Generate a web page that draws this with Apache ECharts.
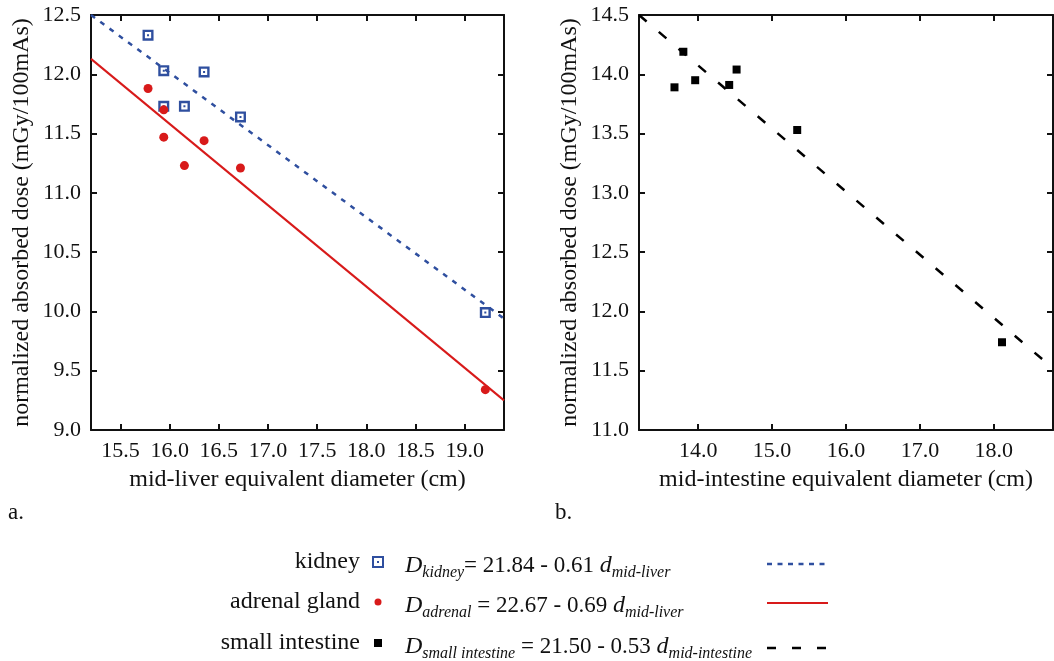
<!DOCTYPE html>
<html>
<head>
<meta charset="utf-8">
<script src="https://cdn.jsdelivr.net/npm/echarts@6/dist/echarts.min.js"></script>
<style>
html,body{margin:0;padding:0;background:#fff;}
#chart{width:1054px;height:661px;}
</style>
</head>
<body>
<div id="chart"></div>
<script>
// ---- data ----
const liverDiameter   = [15.78, 15.94, 15.94, 16.15, 16.35, 16.72, 19.21];
const kidneyDose      = [12.33, 12.03, 11.73, 11.73, 12.02, 11.64, 9.99];
const adrenalDose     = [11.88, 11.70, 11.47, 11.23, 11.44, 11.21, 9.34];
const intestineDiameter = [13.68, 13.80, 13.96, 14.42, 14.52, 15.34, 18.11];
const intestineDose     = [13.89, 14.19, 13.95, 13.91, 14.04, 13.53, 11.74];
// fitted lines (end points)
const kidneyFitX    = [15.2, 19.4];
const kidneyFitY    = [12.50, 9.94];
const adrenalFitX   = [15.2, 19.4];
const adrenalFitY   = [12.13, 9.25];
const intestineFitX = [13.2, 18.8];
const intestineFitY = [14.50, 11.52];
// tick labels
const liverTicks     = [15.5, 16.0, 16.5, 17.0, 17.5, 18.0, 18.5, 19.0];
const intestineTicks = [14.0, 15.0, 16.0, 17.0, 18.0];
// legend texts
const legendNames = ['kidney', 'adrenal gland', 'small intestine'];
const legendSubs  = ['kidney', 'adrenal', 'small intestine'];
const legendEqs   = ['= 21.84 - 0.61 ', ' = 22.67 - 0.69 ', ' = 21.50 - 0.53 '];
const legendVarSubs = ['mid-liver', 'mid-liver', 'mid-intestine'];

const pair = (xs, ys) => xs.map((x, i) => [x, ys[i]]);

const FONT = '"Liberation Serif", "Times New Roman", serif';
const INK = '#111111';
const BLUE = '#2f4f9f';
const RED = '#d81a1a';

const kidneySymbol = 'path://M0,0 L12,0 L12,12 L0,12 Z M2.6,2.6 L2.6,9.4 L9.4,9.4 L9.4,2.6 Z M4.9,4.9 L7.1,4.9 L7.1,7.1 L4.9,7.1 Z';

function xAxisPair(grid, min, max, ticks, name) {
  return [{
    gridIndex: grid, type: 'value', position: 'bottom', min: min, max: max,
    axisLine: { show: true, onZero: false, lineStyle: { color: INK, width: 2 } },
    axisTick: { show: true, inside: true, length: 6, customValues: ticks, lineStyle: { color: INK, width: 2 } },
    axisLabel: { customValues: ticks, formatter: v => Number(v).toFixed(1), fontFamily: FONT, fontSize: 22, color: INK, margin: 10 },
    splitLine: { show: false },
    name: name, nameLocation: 'middle', nameGap: 38,
    nameTextStyle: { fontFamily: FONT, fontSize: 24, color: INK }
  }, {
    gridIndex: grid, type: 'value', position: 'top', min: min, max: max,
    axisLine: { show: true, onZero: false, lineStyle: { color: INK, width: 2 } },
    axisTick: { show: true, inside: true, length: 6, customValues: ticks, lineStyle: { color: INK, width: 2 } },
    axisLabel: { show: false },
    splitLine: { show: false }
  }];
}
function yAxisPair(grid, min, max) {
  return [{
    gridIndex: grid, type: 'value', position: 'left', min: min, max: max, interval: 0.5,
    axisLine: { show: true, onZero: false, lineStyle: { color: INK, width: 2 } },
    axisTick: { show: true, inside: true, length: 6, lineStyle: { color: INK, width: 2 } },
    axisLabel: { formatter: v => Number(v).toFixed(1), fontFamily: FONT, fontSize: 22, color: INK, margin: 10 },
    splitLine: { show: false },
    name: 'normalized absorbed dose (mGy/100mAs)', nameLocation: 'middle', nameGap: 57,
    nameTextStyle: { fontFamily: FONT, fontSize: 24, color: INK }
  }, {
    gridIndex: grid, type: 'value', position: 'right', min: min, max: max, interval: 0.5,
    axisLine: { show: true, onZero: false, lineStyle: { color: INK, width: 2 } },
    axisTick: { show: true, inside: true, length: 6, lineStyle: { color: INK, width: 2 } },
    axisLabel: { show: false },
    splitLine: { show: false }
  }];
}

const rowY = [564, 604, 645];
const graphics = [];
legendNames.forEach((n, i) => {
  graphics.push({
    type: 'text', x: 360, y: rowY[i] - 2,
    style: { text: n, fill: INK, font: '24px ' + FONT, align: 'right', verticalAlign: 'middle' }
  });
  graphics.push({
    type: 'text', x: 405, y: rowY[i] + 2,
    style: {
      text: '{D|D}{s|' + legendSubs[i] + '}{n|' + legendEqs[i] + '}{D|d}{s|' + legendVarSubs[i] + '}',
      fill: INK, align: 'left', verticalAlign: 'middle',
      rich: {
        D: { fontFamily: FONT, fontStyle: 'italic', fontSize: 24, lineHeight: 30, verticalAlign: 'middle', fill: INK },
        n: { fontFamily: FONT, fontSize: 23, lineHeight: 30, verticalAlign: 'middle', fill: INK },
        s: { fontFamily: FONT, fontStyle: 'italic', fontSize: 16, lineHeight: 18, verticalAlign: 'bottom', fill: INK }
      }
    }
  });
});
// legend symbols
graphics.push({ type: 'rect', shape: { x: 373, y: rowY[0] - 7, width: 10, height: 10 }, style: { fill: '#fff', stroke: BLUE, lineWidth: 2 } });
graphics.push({ type: 'rect', shape: { x: 377, y: rowY[0] - 3, width: 2, height: 2 }, style: { fill: BLUE } });
graphics.push({ type: 'circle', shape: { cx: 378, cy: rowY[1] - 2, r: 3.5 }, style: { fill: RED } });
graphics.push({ type: 'rect', shape: { x: 374, y: rowY[2] - 6, width: 8, height: 8 }, style: { fill: '#000' } });
// legend line samples
graphics.push({ type: 'line', shape: { x1: 767, y1: rowY[0], x2: 828, y2: rowY[0] }, style: { stroke: BLUE, lineWidth: 2.5, lineDash: [5, 5.5] } });
graphics.push({ type: 'line', shape: { x1: 767, y1: rowY[1] - 1, x2: 828, y2: rowY[1] - 1 }, style: { stroke: RED, lineWidth: 2 } });
graphics.push({ type: 'line', shape: { x1: 767, y1: rowY[2] + 3, x2: 828, y2: rowY[2] + 3 }, style: { stroke: '#000', lineWidth: 2.5, lineDash: [9, 16] } });
// panel letters
graphics.push({ type: 'text', x: 8, y: 513, style: { text: 'a.', fill: INK, font: '23px ' + FONT, align: 'left', verticalAlign: 'middle' } });
graphics.push({ type: 'text', x: 555, y: 513, style: { text: 'b.', fill: INK, font: '23px ' + FONT, align: 'left', verticalAlign: 'middle' } });

const option = {
  backgroundColor: '#ffffff',
  animation: false,
  grid: [
    { left: 91, top: 15, width: 413, height: 415 },
    { left: 639, top: 15, width: 414, height: 415 }
  ],
  xAxis: [].concat(
    xAxisPair(0, 15.2, 19.4, liverTicks, 'mid-liver equivalent diameter (cm)'),
    xAxisPair(1, 13.2, 18.8, intestineTicks, 'mid-intestine equivalent diameter (cm)')
  ),
  yAxis: [].concat(yAxisPair(0, 9.0, 12.5), yAxisPair(1, 11.0, 14.5)),
  series: [
    { name: 'kidney fit', type: 'line', xAxisIndex: 0, yAxisIndex: 0, data: pair(kidneyFitX, kidneyFitY),
      showSymbol: false, symbol: 'none', lineStyle: { color: BLUE, width: 2.5, type: [5, 6.5] }, z: 2 },
    { name: 'adrenal fit', type: 'line', xAxisIndex: 0, yAxisIndex: 0, data: pair(adrenalFitX, adrenalFitY),
      showSymbol: false, symbol: 'none', lineStyle: { color: RED, width: 2 }, z: 2 },
    { name: 'kidney', type: 'scatter', xAxisIndex: 0, yAxisIndex: 0, data: pair(liverDiameter, kidneyDose),
      symbol: kidneySymbol, symbolSize: 11, itemStyle: { color: BLUE, opacity: 1 }, z: 5 },
    { name: 'adrenal gland', type: 'scatter', xAxisIndex: 0, yAxisIndex: 0, data: pair(liverDiameter, adrenalDose),
      symbol: 'circle', symbolSize: 9, itemStyle: { color: RED, opacity: 1 }, z: 5 },
    { name: 'small intestine fit', type: 'line', xAxisIndex: 2, yAxisIndex: 2, data: pair(intestineFitX, intestineFitY),
      showSymbol: false, symbol: 'none', lineStyle: { color: '#000', width: 2.5, type: [10, 16] }, z: 2 },
    { name: 'small intestine', type: 'scatter', xAxisIndex: 2, yAxisIndex: 2, data: pair(intestineDiameter, intestineDose),
      symbol: 'rect', symbolSize: 8, itemStyle: { color: '#000', opacity: 1 }, z: 5 }
  ],
  graphic: graphics
};

const chart = echarts.init(document.getElementById('chart'), null, { renderer: 'canvas' });
chart.setOption(option);
</script>
</body>
</html>
